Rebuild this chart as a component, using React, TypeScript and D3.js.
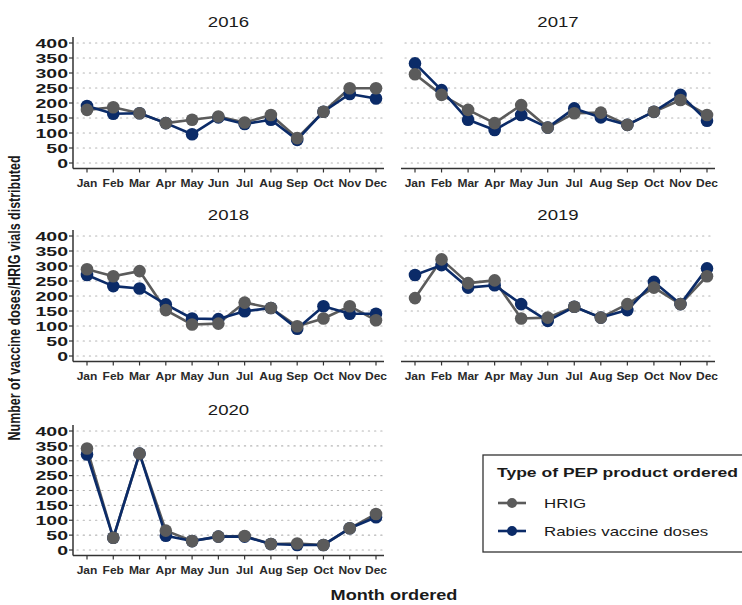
import React from "react";
import * as d3 from "d3";

const months = ["Jan", "Feb", "Mar", "Apr", "May", "Jun", "Jul", "Aug", "Sep", "Oct", "Nov", "Dec"];
const years = ["2016", "2017", "2018", "2019", "2020"];
const yTicks = [0, 50, 100, 150, 200, 250, 300, 350, 400];

const hrig2016 = [177, 186, 166, 133, 144, 155, 135, 160, 83, 171, 249, 249];
const vaccine2016 = [190, 164, 166, 133, 96, 152, 130, 144, 77, 171, 230, 215];
const hrig2017 = [296, 227, 177, 133, 193, 118, 166, 168, 127, 171, 210, 160];
const vaccine2017 = [332, 243, 144, 110, 160, 118, 182, 152, 127, 171, 227, 141];
const hrig2018 = [289, 266, 283, 153, 105, 108, 178, 160, 99, 125, 166, 119];
const vaccine2018 = [270, 233, 225, 172, 125, 123, 149, 160, 91, 166, 141, 141];
const hrig2019 = [193, 322, 243, 252, 125, 128, 164, 128, 173, 228, 173, 266];
const vaccine2019 = [270, 303, 228, 236, 173, 117, 164, 128, 153, 247, 173, 292];
const hrig2020 = [341, 41, 324, 65, 30, 45, 47, 20, 22, 17, 73, 121];
const vaccine2020 = [321, 41, 324, 48, 30, 45, 45, 20, 17, 17, 73, 110];

const hrigByYear = [hrig2016, hrig2017, hrig2018, hrig2019, hrig2020];
const vaccineByYear = [vaccine2016, vaccine2017, vaccine2018, vaccine2019, vaccine2020];

const seriesNames = ["HRIG", "Rabies vaccine doses"];
const seriesColors = ["#5b5b5b", "#0b2b68"];

const FONT = "Liberation Sans, Arial, sans-serif";

// facet geometry: columns (left axis x, right end) and rows (y of 400, y of 0)
const cols = [
  { x0: 73, x1: 384 },
  { x0: 401, x1: 715 },
];
const rows = [
  { top: 43, zero: 163 },
  { top: 236, zero: 356 },
  { top: 431, zero: 550 },
];

// text widened horizontally about its anchor point
function WideText({
  x,
  y,
  sx,
  children,
  ...rest
}: {
  x: number;
  y: number;
  sx: number;
  children: React.ReactNode;
  [k: string]: any;
}) {
  return (
    <g transform={`translate(${x},${y}) scale(${sx},1)`}>
      <text x={0} y={0} fontFamily={FONT} fill="#1a1a1a" {...rest}>
        {children}
      </text>
    </g>
  );
}

function Panel({ idx }: { idx: number }) {
  const col = cols[idx % 2];
  const row = rows[Math.floor(idx / 2)];
  const showY = idx % 2 === 0;
  const x = d3
    .scalePoint<string>()
    .domain(months)
    .range([col.x0 + 14, col.x1 - 8]);
  const y = d3.scaleLinear().domain([0, 400]).range([row.zero, row.top]);
  const axisY = row.zero + 5.5;
  const line = d3
    .line<number>()
    .x((_, i) => x(months[i]) as number)
    .y((d) => y(d));
  const data = [hrigByYear[idx], vaccineByYear[idx]];

  return (
    <g>
      <WideText x={(col.x0 + col.x1) / 2} y={row.top - 16} sx={1.33} textAnchor="middle" fontSize={14}>
        {years[idx]}
      </WideText>
      {yTicks.map((t) => (
        <line
          key={t}
          x1={col.x0 + 4}
          x2={col.x1 - 2}
          y1={y(t)}
          y2={y(t)}
          stroke="#b5b5b5"
          strokeWidth={1.2}
          strokeDasharray="1.2 5"
          strokeLinecap="round"
        />
      ))}
      {showY && (
        <g>
          <line x1={col.x0} x2={col.x0} y1={row.top - 6} y2={axisY} stroke="#333" strokeWidth={1.5} />
          {yTicks.map((t) => (
            <g key={t}>
              <line x1={col.x0 - 4} x2={col.x0} y1={y(t)} y2={y(t)} stroke="#333" strokeWidth={1.2} />
              <WideText
                x={col.x0 - 5}
                y={y(t)}
                sx={1.5}
                dy="0.36em"
                textAnchor="end"
                fontWeight="bold"
                fontSize={13}
              >
                {t}
              </WideText>
            </g>
          ))}
        </g>
      )}
      <line x1={col.x0} x2={col.x1} y1={axisY} y2={axisY} stroke="#333" strokeWidth={1.5} />
      {months.map((m) => (
        <g key={m}>
          <line x1={x(m)} x2={x(m)} y1={axisY} y2={axisY + 4} stroke="#333" strokeWidth={1.2} />
          <WideText
            x={x(m) as number}
            y={axisY + 18}
            sx={1.2}
            textAnchor="middle"
            fontWeight="bold"
            fontSize={10}
            fill="#2a2a2a"
          >
            {m}
          </WideText>
        </g>
      ))}
      {data.map((vals, s) => (
        <path
          key={"l" + s}
          d={line(vals) as string}
          fill="none"
          stroke={seriesColors[s]}
          strokeWidth={2.6}
          strokeLinejoin="round"
        />
      ))}
      {[1, 0].map((s) =>
        data[s].map((v, i) => (
          <circle
            key={"p" + s + "-" + i}
            cx={x(months[i])}
            cy={y(v)}
            r={6.3}
            fill={seriesColors[s]}
          />
        ))
      )}
    </g>
  );
}

function Legend() {
  const left = 483;
  const top = 455;
  return (
    <g>
      <rect x={left} y={top} width={280} height={97} fill="#fff" stroke="#333" strokeWidth={1.3} />
      <WideText x={left + 14} y={top + 22} sx={1.3} fontWeight="bold" fontSize={13.5}>
        Type of PEP product ordered
      </WideText>
      {seriesNames.map((name, i) => {
        const cy = top + 48 + i * 28;
        return (
          <g key={name}>
            <line x1={left + 15} x2={left + 43} y1={cy} y2={cy} stroke={seriesColors[i]} strokeWidth={2.6} />
            <circle cx={left + 29} cy={cy} r={5} fill={seriesColors[i]} />
            <WideText x={left + 61} y={cy} sx={1.3} dy="0.36em" fontSize={13}>
              {name}
            </WideText>
          </g>
        );
      })}
    </g>
  );
}

export default function App() {
  return (
    <svg
      width={742}
      height={605}
      style={{ position: "absolute", left: 0, top: 0, background: "#fff" }}
    >
      {years.map((yr, i) => (
        <Panel key={yr} idx={i} />
      ))}
      <Legend />
      <text
        transform="translate(20,298) rotate(-90) scale(1,1.25)"
        textAnchor="middle"
        fontFamily={FONT}
        fontWeight="bold"
        fontSize={12.5}
        fill="#1a1a1a"
      >
        Number of vaccine doses/HRIG vials distributed
      </text>
      <WideText x={394} y={600} sx={1.25} textAnchor="middle" fontWeight="bold" fontSize={14.5}>
        Month ordered
      </WideText>
    </svg>
  );
}
